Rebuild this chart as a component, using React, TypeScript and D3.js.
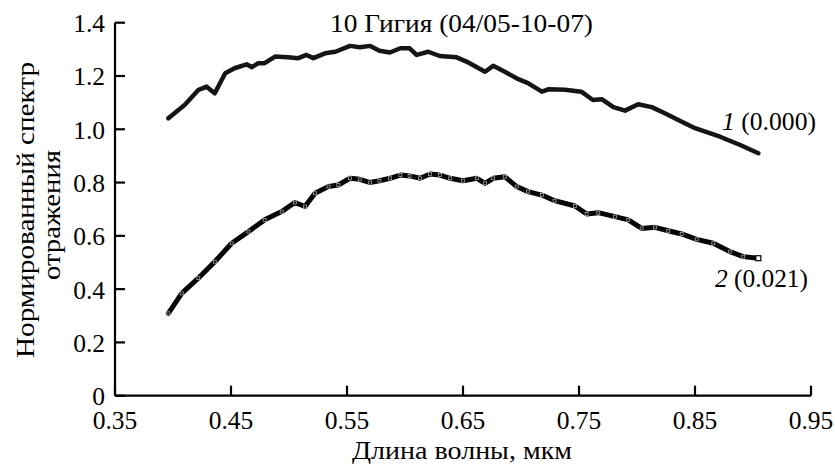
import React from "react";
import * as d3 from "d3";

const wave1 = [0.396, 0.410, 0.422, 0.429, 0.436, 0.4405, 0.445, 0.453, 0.4635, 0.468, 0.4735, 0.479, 0.488, 0.499, 0.508, 0.515, 0.521, 0.531, 0.540, 0.5526, 0.561, 0.570, 0.578, 0.587, 0.596, 0.604, 0.610, 0.620, 0.630, 0.6446, 0.653, 0.662, 0.669, 0.676, 0.686, 0.6977, 0.706, 0.718, 0.7235, 0.738, 0.752, 0.762, 0.7696, 0.7796, 0.7897, 0.801, 0.8127, 0.824, 0.8356, 0.850, 0.8716, 0.889, 0.9046];
const refl1 = [1.041, 1.091, 1.148, 1.160, 1.135, 1.173, 1.210, 1.229, 1.244, 1.233, 1.248, 1.248, 1.273, 1.270, 1.267, 1.279, 1.267, 1.285, 1.291, 1.313, 1.308, 1.313, 1.295, 1.288, 1.304, 1.304, 1.279, 1.291, 1.275, 1.270, 1.254, 1.233, 1.216, 1.238, 1.216, 1.188, 1.173, 1.141, 1.150, 1.148, 1.141, 1.110, 1.113, 1.083, 1.070, 1.094, 1.083, 1.060, 1.035, 1.004, 0.972, 0.941, 0.910];

const wave2 = [0.396, 0.4075, 0.4218, 0.436, 0.4506, 0.465, 0.479, 0.4937, 0.505, 0.5138, 0.5224, 0.534, 0.5425, 0.5526, 0.561, 0.570, 0.578, 0.587, 0.596, 0.604, 0.613, 0.6216, 0.630, 0.639, 0.650, 0.662, 0.669, 0.676, 0.686, 0.6963, 0.706, 0.718, 0.729, 0.7466, 0.7566, 0.7666, 0.781, 0.7925, 0.804, 0.8155, 0.827, 0.8385, 0.8515, 0.8658, 0.880, 0.8916, 0.9046];
const refl2 = [0.309, 0.384, 0.441, 0.503, 0.572, 0.616, 0.660, 0.691, 0.725, 0.710, 0.760, 0.785, 0.791, 0.816, 0.812, 0.800, 0.807, 0.816, 0.828, 0.825, 0.816, 0.832, 0.828, 0.816, 0.807, 0.816, 0.797, 0.816, 0.822, 0.785, 0.766, 0.753, 0.732, 0.712, 0.682, 0.687, 0.672, 0.660, 0.628, 0.632, 0.619, 0.607, 0.587, 0.572, 0.541, 0.522, 0.516];

const xTicks = [0.35, 0.45, 0.55, 0.65, 0.75, 0.85, 0.95];
const yTicks = [0, 0.2, 0.4, 0.6, 0.8, 1.0, 1.2, 1.4];

const title = "10 Гигия (04/05-10-07)";
const xLabel = "Длина волны, мкм";
const yLabel1 = "Нормированный спектр";
const yLabel2 = "отражения";

const W = 835, H = 465;
const txt: React.CSSProperties = { fontFamily: "Liberation Serif", fontSize: "25px" };
const tick: React.CSSProperties = { fontFamily: "Liberation Serif", fontSize: "25.5px" };

export default function App() {
  const x = d3.scaleLinear().domain([0.35, 0.95]).range([115, 811]);
  const y = d3.scaleLinear().domain([0, 1.4]).range([395.7, 22.7]);
  const ln = d3.line<[number, number]>().x((d) => x(d[0])).y((d) => y(d[1]));
  const d1: [number, number][] = wave1.map((w, i) => [w, refl1[i]]);
  const d2: [number, number][] = wave2.map((w, i) => [w, refl2[i]]);
  const fx = d3.format(".2f");
  const fy = (v: number) => (v === 0 ? "0" : d3.format(".1f")(v));
  const last = d2[d2.length - 1];

  return (
    <svg width={W} height={H} style={{ position: "absolute", left: 0, top: 0, background: "#fff" }}>
      <g stroke="#000" strokeWidth={2.2} fill="none">
        <line x1={x(0.35)} x2={x(0.95)} y1={y(0)} y2={y(0)} />
        <line x1={x(0.35)} x2={x(0.35)} y1={y(0)} y2={y(1.4)} />
        {xTicks.map((t) => (
          <line key={"xt" + t} x1={x(t)} x2={x(t)} y1={y(0)} y2={y(0) - 10} />
        ))}
        {yTicks.map((t) => (
          <line key={"yt" + t} x1={x(0.35)} x2={x(0.35) + 10} y1={y(t)} y2={y(t)} />
        ))}
      </g>
      {xTicks.map((t) => (
        <text key={"xl" + t} x={x(t)} y={y(0) + 33} textAnchor="middle" style={tick}>{fx(t)}</text>
      ))}
      {yTicks.map((t) => (
        <text key={"yl" + t} x={x(0.35) - 10} y={y(t) + 9.5} textAnchor="end" style={tick}>{fy(t)}</text>
      ))}

      <path d={ln(d1) || ""} fill="none" stroke="#151515" strokeWidth={4.5} strokeLinejoin="round" strokeLinecap="round" />
      <path d={ln(d2) || ""} fill="none" stroke="#050505" strokeWidth={5} strokeLinejoin="round" strokeLinecap="round" />
      {d2.map((d, i) => (
        <rect key={"m" + i} x={x(d[0]) - 1.5} y={y(d[1]) - 1.5} width={3} height={3} fill="none" stroke="#bbb" strokeWidth={0.7} />
      ))}
      <rect x={x(last[0]) - 2.5} y={y(last[1]) - 2.5} width={5} height={5} fill="#fff" stroke="#000" strokeWidth={1.2} />

      <text x={330} y={32} textLength={263} lengthAdjust="spacingAndGlyphs" style={txt}>{title}</text>
      <text x={352} y={459} textLength={220} lengthAdjust="spacingAndGlyphs" style={txt}>{xLabel}</text>
      <text x={722} y={130} textLength={94} lengthAdjust="spacingAndGlyphs" style={txt}>
        <tspan fontStyle="italic">1</tspan>
        <tspan> (0.000)</tspan>
      </text>
      <text x={715} y={287} textLength={93} lengthAdjust="spacingAndGlyphs" style={txt}>
        <tspan fontStyle="italic">2</tspan>
        <tspan> (0.021)</tspan>
      </text>
      <g transform="rotate(-90)">
        <text x={-358} y={34} textLength={296} lengthAdjust="spacingAndGlyphs" style={txt}>{yLabel1}</text>
        <text x={-280} y={60} textLength={130} lengthAdjust="spacingAndGlyphs" style={txt}>{yLabel2}</text>
      </g>
    </svg>
  );
}
